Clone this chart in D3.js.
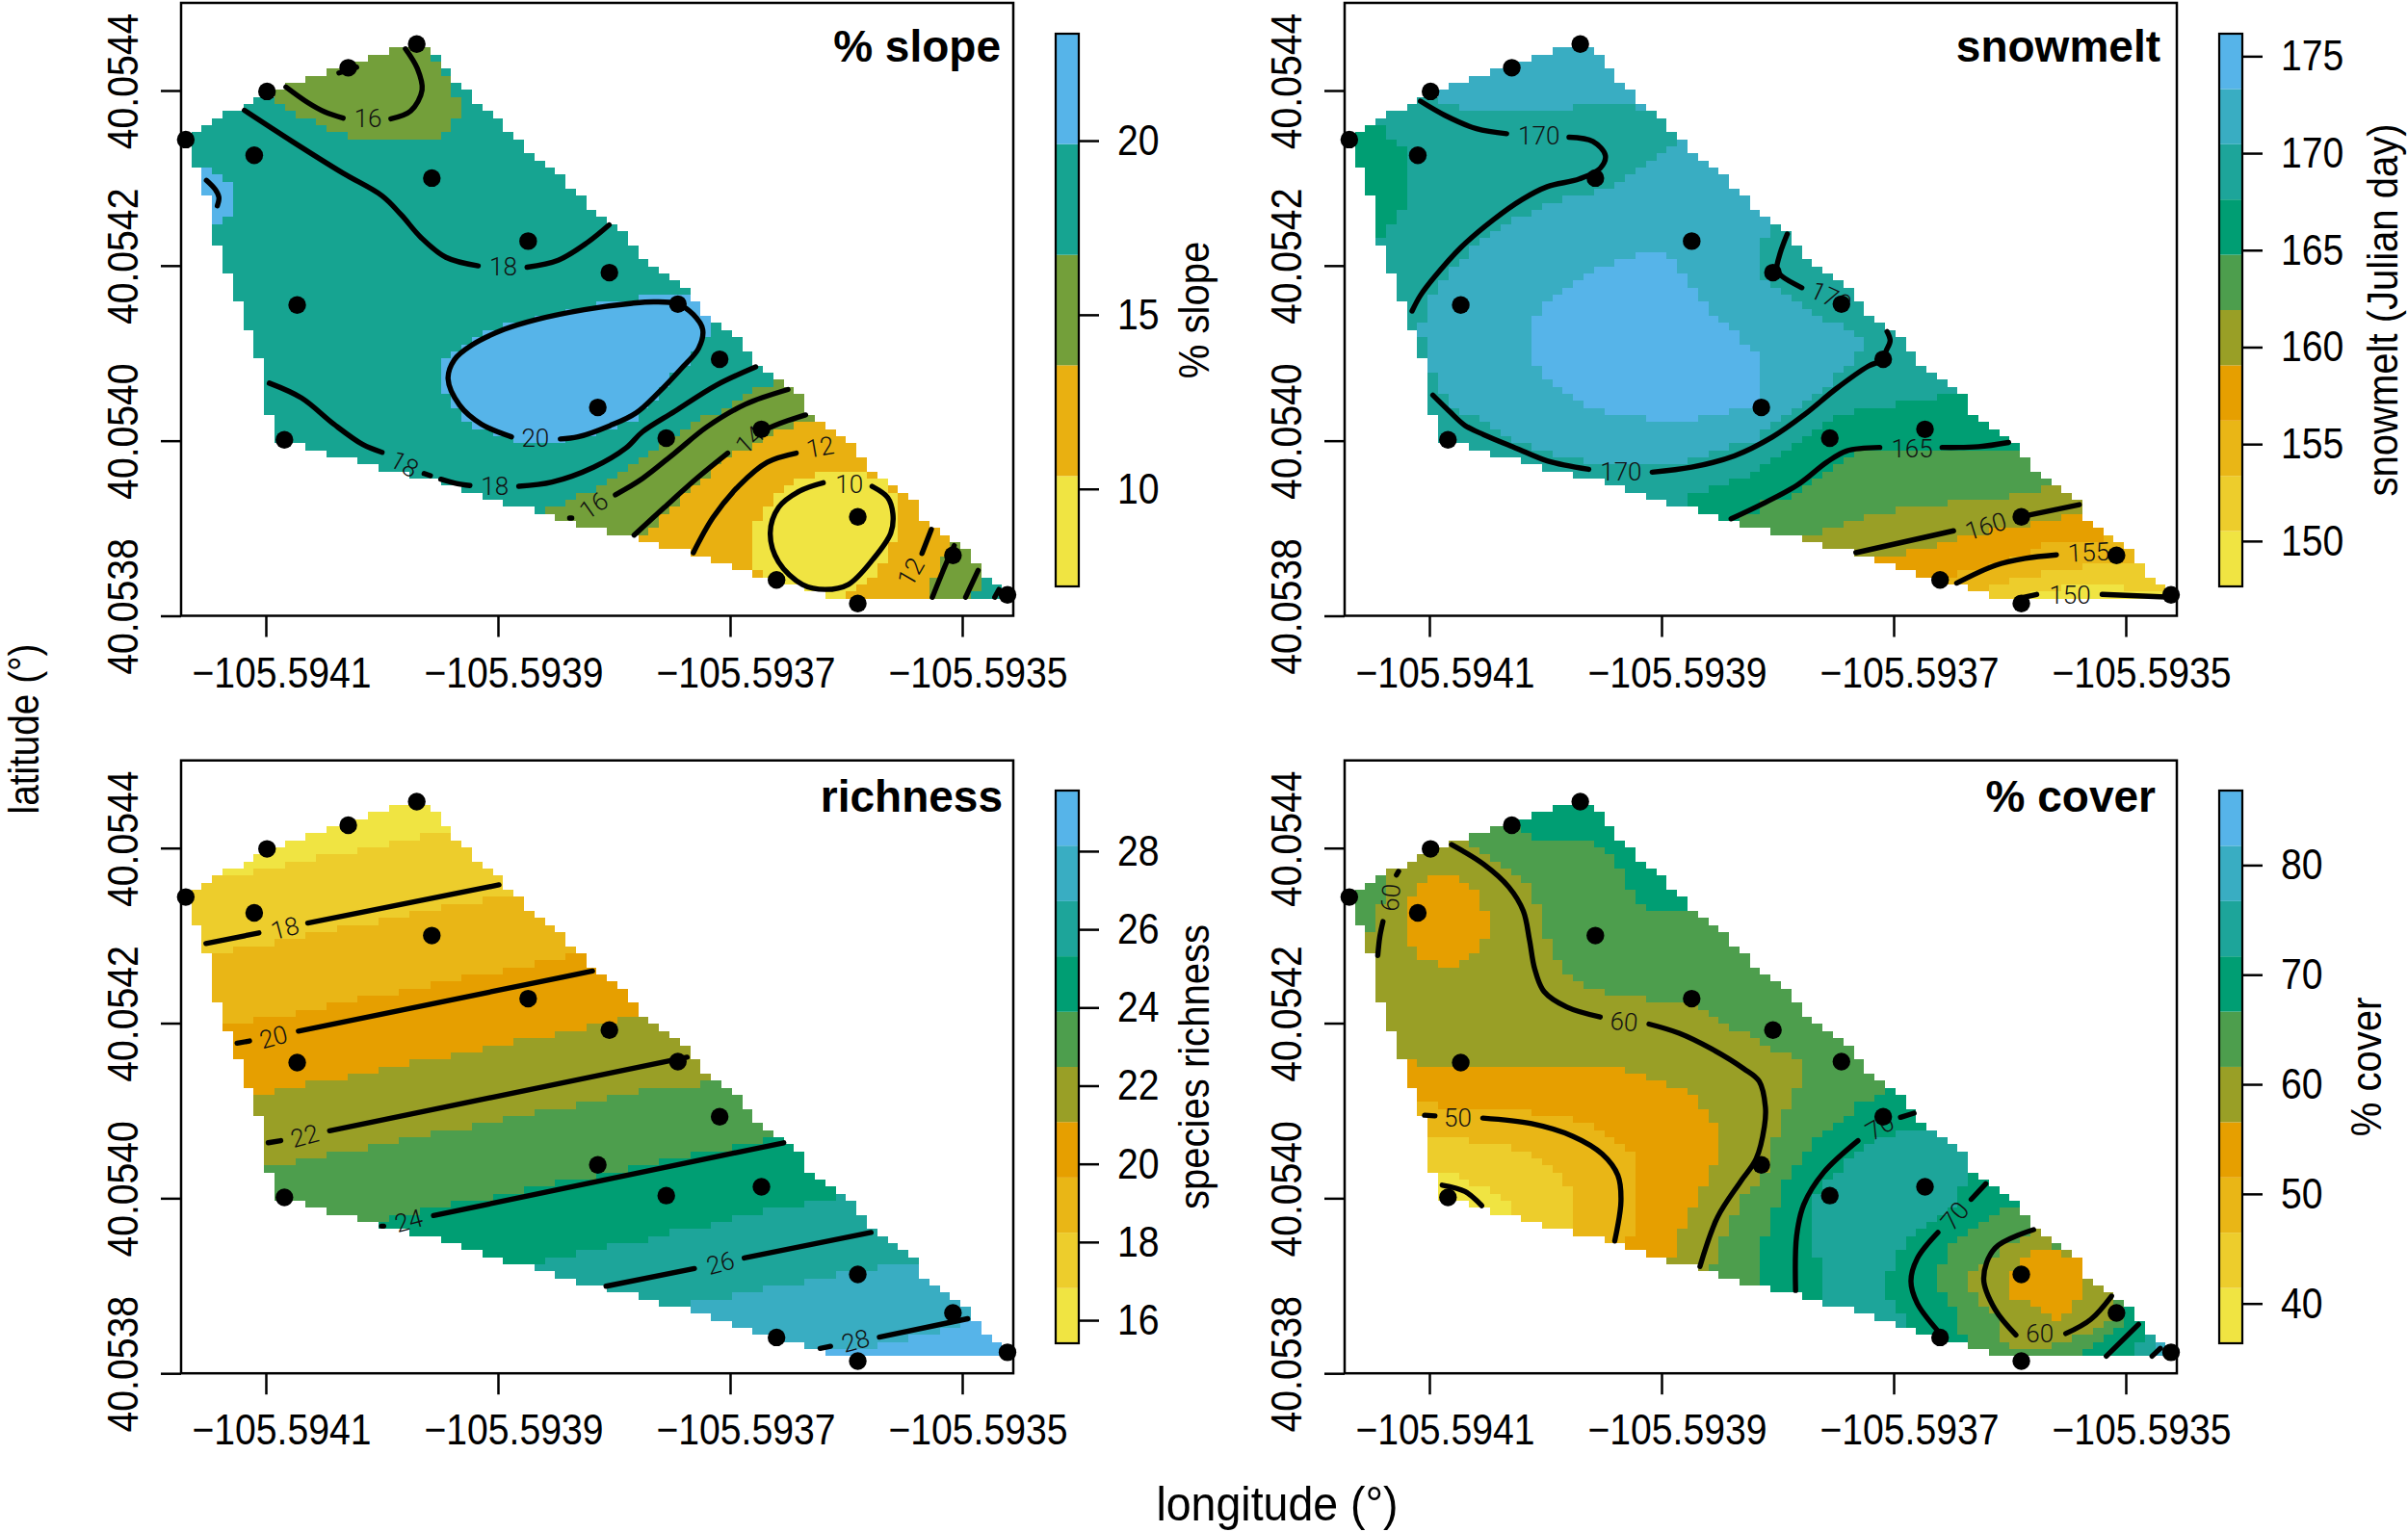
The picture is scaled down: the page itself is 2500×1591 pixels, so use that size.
<!DOCTYPE html>
<html>
<head>
<meta charset="utf-8">
<script src="https://cdn.jsdelivr.net/npm/d3@7"></script>
<style>
  body { margin: 0; background: #fff; }
  text { font-family: "Liberation Sans", Arial, sans-serif; fill: #000; }
  .contour-label { font-family: Roboto, "Liberation Sans", sans-serif; font-weight: 300; fill: #111; }
</style>
</head>
<body>
<div id="chart"></div>
<script>
const lonTicks = [-105.5941, -105.5939, -105.5937, -105.5935];
const latTicks = [40.0544, 40.0542, 40.0540, 40.0538];
const palette = ["#F0E442", "#E69F00", "#009E73", "#56B4E9"];

// sample plots
const plotLon = [-105.593970, -105.594029, -105.594099, -105.594169, -105.594110, -105.593957, -105.593874,
  -105.593804, -105.594073, -105.593745, -105.593709, -105.593814, -105.594084, -105.593755, -105.593673,
  -105.593590, -105.593660, -105.593590, -105.593508, -105.593461];
const plotLat = [40.054453, 40.054426, 40.054399, 40.054344, 40.054326, 40.054300, 40.054228,
  40.054192, 40.054155, 40.054156, 40.054093, 40.054038, 40.054001, 40.054003, 40.054013,
  40.053913, 40.053841, 40.053814, 40.053869, 40.053824];

// interpolation grid: corner of col 0 / row 0 and the cell size in degrees
const gridLon0 = -105.59416417, gridLonStep = 0.0000089544;
const gridLat0 = 40.05444917, gridLatStep = 0.0000080716;

// first and one-past-last column of the site hull, per grid row
const hullStart = [19,17,15,13,11,9,8,6,5,3,2,1,0,0,0,0,0,1,1,1,1,2,2,2,2,2,2,2,3,3,3,3,4,4,4,4,5,5,5,5,
  6,6,6,6,7,7,7,7,7,7,7,7,8,8,8,8,11,13,16,18,21,24,26,28,30,33,35,37,40,43,45,48,50,52,54,57,59,61];
const hullEnd = [23,24,24,25,25,26,27,27,28,29,30,30,31,32,32,33,34,35,36,36,37,38,38,39,40,41,42,42,43,43,44,45,46,47,48,48,49,49,50,51,
  52,53,53,54,54,55,56,57,58,59,59,59,60,61,62,63,64,64,65,65,66,67,68,69,70,70,70,71,72,73,74,75,75,76,76,77,78,78];

// class limits of each colour key
const slopeBreaks = [7.2, 10.37, 13.55, 16.72, 19.9, 23.07];
const snowBreaks = [147.66, 150.51, 153.36, 156.21, 159.06, 161.91, 164.76, 167.61, 170.46, 173.31, 176.16];
const richBreaks = [15.41, 16.82, 18.24, 19.65, 21.07, 22.48, 23.89, 25.31, 26.72, 28.14, 29.55];
const coverBreaks = [36.37, 41.41, 46.46, 51.5, 56.54, 61.59, 66.63, 71.67, 76.71, 81.76, 86.8];

const slopeTicks = [10, 15, 20];
const snowTicks = [150, 155, 160, 165, 170, 175];
const richTicks = [16, 18, 20, 22, 24, 26, 28];
const coverTicks = [40, 50, 60, 70, 80];

// raster: per grid row "class col class col class ...", class runs from the given col
const slopeRows = ["2","2 23 3","2","2 24 3","2","2 25 3","2 25 3","3 8 2 26 3","3 9 2 26 3","3 10 2 26 3",
  "3 12 2 25 3","3 13 2 25 3","3 15 2 24 3","3","3","3","3","4 2 3","4 3 3","4 4 3",
  "4 4 3","4 4 3","4 4 3","4 4 3","4 3 3","3","3","3","3","3",
  "3","3","3","3","3","3 43 4","3 39 4","3 36 4","3 33 4","3 30 4 50 3",
  "3 28 4 50 3","3 27 4 49 3","3 26 4 49 3","3 25 4 48 3","3 24 4 48 3","3 24 4 47 3","3 24 4 46 3","3 24 4 46 3 56 2","3 24 4 45 3 54 2","3 25 4 45 3 53 2",
  "3 25 4 44 3 52 2","3 26 4 43 3 51 2","3 26 4 43 3 49 2","3 27 4 41 3 48 2 58 1","3 29 4 39 3 47 2 56 1","3 31 4 36 3 46 2 55 1","3 45 2 54 1","3 44 2 52 1","3 43 2 51 1","3 42 2 50 1",
  "3 41 2 50 1 60 0 65 1","3 40 2 49 1 58 0","3 39 2 48 1 57 0 67 1","3 37 2 47 1 56 0 68 1","3 36 2 47 1 56 0 68 1","3 34 2 46 1 55 0 68 1","2 45 1 55 0 68 1","2 45 1 54 0 68 1","2 44 1 54 0 68 1","1 54 0 68 1",
  "1 54 0 67 1 73 2","1 54 0 67 1 73 2","1 54 0 67 1 72 2","1 54 0 66 1 72 2","1 55 0 66 1 72 2","0 65 1 71 2 76 3","0 64 1 71 2 76 3","0 63 1 71 2 75 3"];

const snowRows = ["8","8","8","8","8","8","8","7 8 8","7 10 8 21 7 27 8","7",
  "7","6 3 7","6 3 7","6 4 7 31 8","6 5 7 30 8","6 5 7 29 8","6 5 7 28 8","6 5 7 27 8","6 5 7 26 8","6 5 7 25 8",
  "6 5 7 23 8","6 5 7 20 8","6 5 7 18 8","6 4 7 17 8","6 4 7 15 8","6 3 7 14 8 40 7","6 3 7 13 8 40 7","7 12 8 39 7","7 11 8 39 7","7 11 8 27 9 30 8 39 7",
  "7 10 8 25 9 31 8 39 7","7 9 8 23 9 31 8 39 7","7 9 8 22 9 32 8 39 7","7 8 8 21 9 32 8 40 7","7 8 8 20 9 33 8 41 7","7 7 8 19 9 33 8 42 7","7 7 8 18 9 34 8 43 7","7 7 8 18 9 34 8 44 7","7 7 8 17 9 35 8 45 7","7 6 8 17 9 36 8 47 7",
  "8 17 9 37 8 48 7","7 7 8 17 9 37 8 49 7","7 7 8 17 9 38 8 49 7","7 7 8 17 9 39 8 48 7","8 17 9 39 8 48 7","8 18 9 39 8 47 7","7 8 8 18 9 39 8 46 7","7 8 8 19 9 39 8 46 7","7 8 8 20 9 39 8 45 7","7 9 8 21 9 39 8 44 7 56 6",
  "7 9 8 22 9 39 8 43 7 52 6","7 10 8 24 9 36 8 42 7 48 6","7 12 8 28 9 33 8 41 7 46 6","7 13 8 40 7 45 6","7 14 8 39 7 44 6","7 15 8 39 7 43 6","7 17 8 36 7 42 6","7 19 8 34 7 41 6 48 5","7 22 8 32 7 40 6 47 5","7 39 6 46 5",
  "7 38 6 45 5","7 36 6 44 5","7 34 6 43 5 66 4","7 32 6 42 5 63 4","7 32 6 39 5 57 4","6 39 5 52 4","6 37 5 49 4 68 3","5 47 4 65 3","5 45 4 61 3","4 58 3 72 2",
  "4 56 3 66 2","4 53 3 65 2","3 63 2","3 61 2 70 1","3 58 2 66 1","2 63 1","2 61 1 68 0 74 1","1 65 0"];

const richRows = ["0","0","0","0","0 22 1","0 19 1","0 16 1","0 12 1","0 9 1","0 6 1",
  "1","1","1","1 28 2","1 24 2","1 21 2","1 18 2","1 14 2","1 11 2","1 8 2",
  "1 4 2","2 36 3","2 33 3","2 30 3","2 26 3","2 23 3","2 20 3","2 16 3","2 13 3","2 10 3",
  "2 6 3 41 4","3 38 4","3 35 4","3 31 4","3 28 4","3 25 4","3 21 4","3 18 4","3 15 4","3 11 4 49 5",
  "3 8 4 43 5","4 40 5","4 37 5","4 33 5","4 30 5","4 27 5","4 23 5","4 20 5 55 6","4 17 5 52 6","4 13 5 48 6",
  "4 10 5 45 6","5 42 6","5 39 6","5 35 6","5 32 6","5 29 6 62 7","5 25 6 59 7","5 22 6 55 7","5 19 6 52 7","6 50 7",
  "6 46 7","6 44 7","6 40 7","6 37 7","6 34 7","7 66 8","7 62 8","7 59 8","7 55 8","7 52 8",
  "7 48 8","8","8","8 74 9","8 72 9","8 69 9","8 66 9","9"];

const coverRows = ["6","6","6","5 16 6","5 17 6","4 11 5 23 6","4 12 5 24 6","4 13 5 25 6","4 14 5 25 6","4 15 5 26 6",
  "5 3 4 7 3 10 4 16 5 26 6","5 3 4 6 3 11 4 17 5 26 6","5 3 4 6 3 12 4 17 5 27 6","5 3 4 5 3 12 4 17 5 27 6","5 2 4 5 3 12 4 18 5 28 6","5 2 4 5 3 13 4 18 5","5 2 4 5 3 13 4 18 5","5 2 4 5 3 13 4 18 5","4 5 3 13 4 18 5","4 5 3 12 4 19 5",
  "4 6 3 12 4 19 5","4 6 3 11 4 19 5","4 8 3 10 4 20 5","4 20 5","4 21 5","4 22 5","4 24 5","4 28 5","4 33 5","4 34 5",
  "4 35 5","4 36 5","4 38 5","4 39 5","4 40 5","4 42 5","3 6 4 43 5","3 26 4 43 5","3 28 4 43 5","3 30 4 43 5",
  "3 32 4 42 5 51 6","3 33 4 42 5 50 6","2 8 3 33 4 42 5 48 6","2 17 3 34 4 41 5 48 6","2 21 3 34 4 41 5 47 6","2 23 3 35 4 41 5 46 6","2 24 3 35 4 41 5 45 6 52 7","1 11 2 25 3 35 4 40 5 44 6 50 7","1 15 2 26 3 35 4 40 5 44 6 49 7","1 17 2 27 3 35 4 40 5 43 6 48 7",
  "1 18 2 27 3 35 4 40 5 43 6 47 7","1 19 2 27 3 34 4 40 5 42 6 47 7","0 10 1 20 2 27 3 34 4 39 5 42 6 46 7 59 6","0 11 1 20 2 27 3 34 4 39 5 41 6 45 7 59 6","0 13 1 21 2 27 3 33 4 38 5 41 6 45 7 58 6","0 14 1 21 2 27 3 33 4 37 5 41 6 44 7 58 6","0 15 1 21 2 27 3 33 4 37 5 41 6 44 7 58 6","0 15 1 21 2 27 3 32 4 37 5 40 6 44 7 57 6 62 5","1 21 2 27 3 32 4 36 5 40 6 44 7 56 6 61 5","1 21 2 27 3 32 4 36 5 40 6 44 7 55 6 60 5",
  "2 27 3 31 4 36 5 40 6 44 7 54 6 59 5 65 4","2 26 3 31 4 35 5 39 6 44 7 53 6 58 5 64 4","3 31 4 35 5 39 6 44 7 53 6 57 5 62 4 67 5","3 31 4 35 5 39 6 44 7 52 6 57 5 62 4 65 3 68 4","4 35 5 39 6 45 7 52 6 57 5 61 4 64 3","4 34 5 39 6 45 7 52 6 56 5 60 4 64 3","5 39 6 45 7 51 6 56 5 59 4 63 3","5 39 6 45 7 51 6 56 5 59 4 63 3 70 4","6 45 7 51 6 56 5 59 4 63 3 70 4","6 45 7 51 6 57 5 60 4 63 3 70 4",
  "7 52 6 57 5 60 4 65 3 69 4 73 5","7 52 6 58 5 61 4 66 3 69 4 73 5 74 6","7 53 6 58 5 62 4 67 3 68 4 73 5 74 6","7 53 6 58 5 62 4 72 5 74 6","6 58 5 62 4 71 5 73 6","6 59 5 62 4 69 5 72 6 76 7","5 63 4 67 5 71 6 75 7 77 8","5 70 6 75 7 77 8"];

// contour pieces, as [col, row] positions on the grid
const slopeLines = [
  [[9.1,5.6],[11.2,7.8],[12.8,9.1],[14.6,10]],
  [[19.2,10.1],[21.1,9],[22.2,6],[21.75,3],[20.6,0.2]],
  [[5.1,8.9],[9.7,13.3],[14.6,17.8],[18.35,21],[20.2,23.7],[22.1,26.9],[24.5,29.7],[27.6,30.9]],
  [[32.3,31.1],[35.3,30.1],[38.1,27.6],[40.2,25.1]],
  [[1.45,18.8],[2.3,20.1],[2.65,21.2],[2.5,22.4]],
  [[14.2,3.6],[15.9,2.8]],
  [[35.5,55.4],[37.2,55.1],[40.3,53.5],[42.8,51.7],[44.9,48.9],[47.1,45.5],[48.8,42.6],[49.2,39.9],[48.3,37.8],[46.8,36.3],[44.6,36],[42.4,36.2],[37.8,37.1],[33.2,38.5],[30.1,39.9],[27,42.1],[25.3,44.2],[24.7,46.9],[25.8,50.6],[27.9,53.3],[30.8,55.1]],
  [[7.5,47.5],[10.6,49.6],[13.7,53.3],[16.5,56.2],[18.35,57.3]],
  [[22.4,60.3],[23,60.6]],
  [[24,61.1],[25.5,61.7],[26.8,62]],
  [[31.5,62.1],[34.7,61.5],[38.7,59.4],[41.8,56.7],[43.4,54.4],[46.5,51.5],[50.5,47.8],[54.3,45.2]],
  [[36.4,66.6],[36.6,66.6]],
  [[40.8,63.3],[43.4,61],[46.5,57.4],[49.6,53.7],[53.3,50.5],[57.4,48.4]],
  [[42.6,69],[45.5,65.1],[48.6,61],[51.6,57.4]],
  [[55,54.2],[57,53],[59.1,52]],
  [[48.3,71.5],[50.2,66.5],[52.7,62],[55.4,58.7],[58.2,57.4]],
  [[60.8,61.6],[58.5,62.8],[56.5,65.1],[55.7,68.7],[56.5,72.8],[58.8,76],[61,76.7],[63.2,76],[65.6,72.4],[67.3,68.7],[67.5,66],[67,63.7],[65.5,62.1]],
  [[71.2,68.2],[70.3,71.6]],
  [[73.4,70.5],[72.6,73.1],[71.3,77.8]],
  [[75.7,74],[74.5,77.8]],
  [[77.3,77.8],[77.7,76.7]]
];
const slopeTags = [
  ["16",17,10,0],["18",30,31,0],["20",33.1,55.2,0],["18",20.5,58.95,30],["18",29.2,62.1,0],
  ["16",38.7,64.8,-35],["14",53.7,55.5,-42],["12",60.5,56.5,-10],["10",63.3,61.8,0],["12",69.2,74.2,-60]
];

const snowLines = [
  [[6.3,7.6],[8.65,9.6],[11.7,11.5],[14.6,12.2]],
  [[20.6,12.7],[22.9,13.3],[24.1,15.3],[23.6,17.1],[21.6,18.6],[18.5,19.7],[16.1,21.5],[13.3,24.4],[10.2,28.3],[7.7,32.4],[6.3,35.1],[5.5,37.3]],
  [[41.6,26.4],[40.9,29.2],[40.6,31.5],[41.1,32.4],[43,34]],
  [[51.2,40.2],[51.5,41.5],[51.1,43],[50.9,44.1],[49.4,45.1],[46.3,48.3],[43.3,51.9],[40.2,55.1],[36.5,57.8],[32.4,59.4],[28.6,60.1]],
  [[22.5,59.7],[18.5,58.5],[15.5,56.7],[12.4,54.8],[10.6,53.5],[9.1,51.5],[7.5,49.2]],
  [[36.2,66.7],[39.2,64.6],[42.6,61.9],[45.4,58.7],[47.3,57.1],[50.5,56.6]],
  [[56.5,56.6],[60,56.5],[62.9,55.9]],
  [[48.2,71.5],[57.6,68.4]],
  [[64.1,66.4],[69.7,64.7]],
  [[57.9,75.8],[61.6,73.3],[64.5,72.3],[67.5,71.8]],
  [[63.8,78],[65.6,77.4]],
  [[71.9,77.4],[78.6,77.8]]
];
const snowTags = [
  ["170",17.7,12.4,0],["170",45.8,35.3,25],["170",25.6,60,0],["165",53.6,56.7,0],
  ["160",60.7,67.7,-17],["155",70.6,71.4,-3],["150",68.8,77.5,0]
];

const richLines = [
  [[1.4,19.6],[6.5,18.1]],
  [[11.2,16.7],[29.6,11.3]],
  [[4.4,33.7],[5.6,33.4]],
  [[10.3,32],[38.6,23.5]],
  [[7.4,47.8],[8.6,47.5]],
  [[13.3,46.1],[47.7,35.7]],
  [[18.3,59.6],[18.5,59.6]],
  [[23.3,58.1],[57,47.8]],
  [[39.9,68.1],[48.4,65.6]],
  [[53.2,64.1],[65.4,60.5]],
  [[60.5,76.9],[61.5,76.6]],
  [[66.2,75.3],[74.7,72.7]]
];
const richTags = [
  ["18",9,17.4,-15],["20",7.9,32.8,-15],["22",10.9,46.8,-15],["24",20.9,58.8,-15],["26",50.9,64.8,-15],["28",63.9,75.8,-15]
];

const coverLines = [
  [[4,9.9],[4.2,9.4]],
  [[2.7,16.5],[2.4,18.6],[2.2,21.3]],
  [[9.3,5.6],[12.4,8.4],[14.8,11.6],[16.2,15],[16.8,19.1],[17.3,23.2],[18.2,26.4],[20.4,28.6],[23.6,30]],
  [[28.3,31],[31.2,32.3],[34.3,34.5],[37.4,37.3],[38.9,39.1],[39.5,42.8],[39.4,45.5],[38.6,50.1],[37.1,53.3],[34.9,58.3],[33.2,65.3]],
  [[6.7,43.9],[7.7,44]],
  [[12.3,44.3],[17,45.1],[21,46.9],[23.8,49.4],[25.3,52.4],[25.6,56],[25,61.7]],
  [[8.4,53.8],[10.6,54.7],[12.2,56.7]],
  [[42.4,68.7],[42.5,61],[43.2,56.5],[45.1,52],[48.4,47.5]],
  [[52.5,44.2],[53.8,43.6]],
  [[60.7,53.6],[59.3,55.8]],
  [[56.1,60.5],[54.1,64.2],[53.5,67.4],[54.1,70.5],[56.2,74.6]],
  [[65.3,60.1],[61.6,62.7],[60.5,67],[61.6,71.4],[63.6,75]],
  [[68.4,74.8],[70.8,72.8],[72.8,69.5]],
  [[72.3,78],[75.4,73.5]],
  [[76.7,78],[77.5,76.9]]
];
const coverTags = [
  ["60",3.4,13.1,-85],["60",25.9,30.6,5],["50",9.9,44.2,0],["70",50.5,45.5,-30],["70",57.7,58.1,-50],["60",65.9,74.8,0]
];

const panels = [
  { title: "% slope", titleX: 1039, titleY: 64, dx: 0, dy: 0, rows: slopeRows, breaks: slopeBreaks, ticks: slopeTicks, lines: slopeLines, tags: slopeTags, label: "% slope", labelX: 1255 },
  { title: "snowmelt", titleX: 2243, titleY: 64, dx: 1208, dy: 0, rows: snowRows, breaks: snowBreaks, ticks: snowTicks, lines: snowLines, tags: snowTags, label: "snowmelt (Julian day)", labelX: 2489 },
  { title: "richness", titleX: 1041, titleY: 843, dx: 0, dy: 786.7, rows: richRows, breaks: richBreaks, ticks: richTicks, lines: richLines, tags: richTags, label: "species richness", labelX: 1255 },
  { title: "% cover", titleX: 2238, titleY: 843, dx: 1208, dy: 786.7, rows: coverRows, breaks: coverBreaks, ticks: coverTicks, lines: coverLines, tags: coverTags, label: "% cover", labelX: 2472 }
];

// the original type is tall and narrow
const TICK_FONT = 45, TICK_SQUEEZE = 0.87;

const svg = d3.select("#chart").append("svg").attr("width", 2500).attr("height", 1591);
const ramp = d3.scaleLinear().domain([0, 1 / 3, 2 / 3, 1]).range(palette);

function parseRow(str) {
  const parts = str.split(" ").map(Number);
  const runs = [{ band: parts[0], from: -1 }];
  for (let i = 1; i < parts.length; i += 2) {
    runs.push({ band: parts[i + 1], from: parts[i] });
  }
  return runs;
}

function drawPanel(p) {
  const x = d3.scaleLinear().domain([lonTicks[0], lonTicks[3]]).range([276 + p.dx, 999 + p.dx]);
  const y = d3.scaleLinear().domain([latTicks[0], latTicks[3]]).range([94 + p.dy, 639.5 + p.dy]);
  const nBands = p.breaks.length - 1;
  const bandColor = (b) => ramp(b / (nBands - 1));
  const gx = (k) => x(gridLon0 + k * gridLonStep);
  const gy = (j) => y(gridLat0 - j * gridLatStep);
  const g = svg.append("g");

  // raster cells, one rect per run in a row
  const cells = [];
  p.rows.forEach((str, j) => {
    const runs = parseRow(str);
    runs.forEach((r, i) => {
      const from = Math.max(r.from, hullStart[j]);
      const to = Math.min(i + 1 < runs.length ? runs[i + 1].from : hullEnd[j], hullEnd[j]);
      if (to > from) cells.push({ j, from, to, band: r.band });
    });
  });
  g.append("g").selectAll("rect").data(cells).enter().append("rect")
    .attr("x", (d) => gx(d.from))
    .attr("y", (d) => gy(d.j))
    .attr("width", (d) => gx(d.to) - gx(d.from))
    .attr("height", (d) => gy(d.j + 1) - gy(d.j))
    .attr("fill", (d) => bandColor(d.band))
    .attr("shape-rendering", "crispEdges");

  // contour lines
  const line = d3.line().x((d) => gx(d[0])).y((d) => gy(d[1])).curve(d3.curveCatmullRom.alpha(0.5));
  g.append("g").selectAll("path").data(p.lines).enter().append("path")
    .attr("d", line)
    .attr("fill", "none")
    .attr("stroke", "#000")
    .attr("stroke-width", 5.4)
    .attr("stroke-linecap", "round");

  g.append("g").selectAll("text").data(p.tags).enter().append("text")
    .attr("class", "contour-label")
    .attr("transform", (d) => `translate(${gx(d[1])},${gy(d[2])}) rotate(${d[3]})`)
    .attr("text-anchor", "middle")
    .attr("dy", "0.36em")
    .attr("font-size", 26)
    .text((d) => d[0]);

  // plots
  g.append("g").selectAll("circle").data(plotLon).enter().append("circle")
    .attr("cx", (d) => x(d))
    .attr("cy", (d, i) => y(plotLat[i]))
    .attr("r", 9.2)
    .attr("fill", "#000");

  // box
  g.append("rect")
    .attr("x", 188 + p.dx).attr("y", 3 + p.dy)
    .attr("width", 864).attr("height", 636.5)
    .attr("fill", "none").attr("stroke", "#000").attr("stroke-width", 2.5);

  // axes
  const fmtLon = (d) => "\u2212" + Math.abs(d).toFixed(4);
  const ax = g.append("g").attr("transform", `translate(0,${639.5 + p.dy})`)
    .call(d3.axisBottom(x).tickValues(lonTicks).tickSize(22).tickFormat(fmtLon));
  ax.select(".domain").remove();
  ax.selectAll("line").attr("stroke-width", 2.5);
  ax.selectAll("text").attr("font-size", TICK_FONT).attr("font-family", "Liberation Sans")
    .attr("x", 0).attr("y", 0).attr("dy", 0)
    .attr("transform", `translate(16,74) scale(${TICK_SQUEEZE},1)`);

  const ay = g.append("g").attr("transform", `translate(${188 + p.dx},0)`)
    .call(d3.axisLeft(y).tickValues(latTicks).tickSize(21).tickFormat((d) => d.toFixed(4)));
  ay.select(".domain").remove();
  ay.selectAll("line").attr("stroke-width", 2.5);
  ay.selectAll("text").attr("font-size", TICK_FONT).attr("font-family", "Liberation Sans")
    .attr("text-anchor", "middle").attr("x", 0).attr("y", 0).attr("dy", 0)
    .attr("transform", `translate(-45,-10) rotate(-90) scale(${TICK_SQUEEZE},1)`);

  g.append("text").attr("x", p.titleX).attr("y", p.titleY)
    .attr("text-anchor", "end").attr("font-weight", "bold").attr("font-size", 46)
    .text(p.title);

  // colour key
  const barX = 1096 + p.dx, barW = 24;
  const barTop = p.dy ? 821 : 35, barBottom = p.dy ? 1395 : 609;
  const z = d3.scaleLinear().domain([p.breaks[0], p.breaks[nBands]]).range([barBottom, barTop]);
  g.append("g").selectAll("rect").data(d3.range(nBands)).enter().append("rect")
    .attr("x", barX)
    .attr("y", (b) => z(p.breaks[b + 1]))
    .attr("width", barW)
    .attr("height", (b) => z(p.breaks[b]) - z(p.breaks[b + 1]))
    .attr("fill", bandColor);
  g.append("rect").attr("x", barX).attr("y", barTop).attr("width", barW).attr("height", barBottom - barTop)
    .attr("fill", "none").attr("stroke", "#000").attr("stroke-width", 2.2);
  const az = g.append("g").attr("transform", `translate(${barX + barW},0)`)
    .call(d3.axisRight(z).tickValues(p.ticks).tickSize(21));
  az.select(".domain").remove();
  az.selectAll("line").attr("stroke-width", 2.5);
  az.selectAll("text").attr("font-size", TICK_FONT).attr("font-family", "Liberation Sans")
    .attr("x", 0).attr("y", 0).attr("dy", 0)
    .attr("transform", `translate(40,14.5) scale(${TICK_SQUEEZE},1)`);

  g.append("text")
    .attr("transform", `translate(${p.labelX},${(barTop + barBottom) / 2}) rotate(-90) scale(0.89,1)`)
    .attr("text-anchor", "middle").attr("font-size", 45)
    .text(p.label);
}

panels.forEach(drawPanel);

svg.append("text").attr("transform", "translate(40,757) rotate(-90) scale(0.88,1)")
  .attr("text-anchor", "middle").attr("font-size", 44).text("latitude (\u00B0)");
svg.append("text").attr("transform", "translate(1326,1579) scale(0.93,1)")
  .attr("text-anchor", "middle").attr("font-size", 50).text("longitude (\u00B0)");
</script>
</body>
</html>
